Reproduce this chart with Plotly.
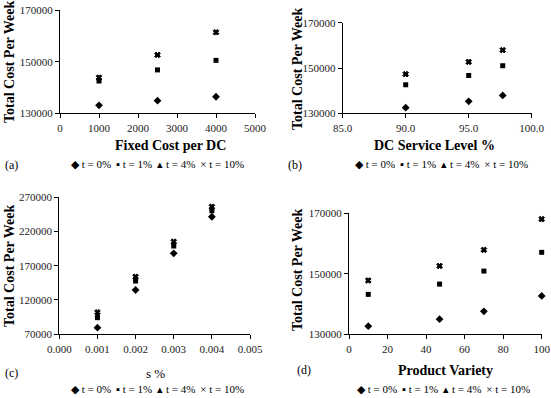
import plotly.graph_objects as go

series_names = ["t = 0%", "t = 1%", "t = 4%", "t = 10%"]
symbols = ["diamond", "square", "triangle-up", "x"]

# (a) Fixed cost per DC
fixed_cost = [1000, 2500, 4000]
a_t0 = [133100, 134900, 136400]
a_t1 = [142500, 146800, 150500]
a_t4 = [143300, 152300, 161000]
a_t10 = [143800, 152600, 161400]

# (b) DC service level
service = [90.0, 95.0, 97.7]
b_t0 = [132500, 135300, 137900]
b_t1 = [142600, 146700, 151000]
b_t4 = [147000, 152400, 157600]
b_t10 = [147300, 152700, 157900]

# (c) s %
s_pct = [0.001, 0.002, 0.003, 0.004]
c_t0 = [79600, 134500, 188000, 241200]
c_t1 = [94200, 147600, 198600, 250000]
c_t4 = [97500, 150500, 201500, 252500]
c_t10 = [102000, 153900, 204900, 255800]

# (d) Product variety
variety = [10, 47, 70, 100]
d_t0 = [132700, 135000, 137600, 142700]
d_t1 = [143200, 146600, 150900, 157100]
d_t4 = [147500, 152300, 157600, 167800]
d_t10 = [147800, 152600, 157900, 168100]

panels = [
    ("x", "y", fixed_cost, [a_t0, a_t1, a_t4, a_t10]),
    ("x2", "y2", service, [b_t0, b_t1, b_t4, b_t10]),
    ("x3", "y3", s_pct, [c_t0, c_t1, c_t4, c_t10]),
    ("x4", "y4", variety, [d_t0, d_t1, d_t4, d_t10]),
]

FONT = "Liberation Serif"
sizes = [6, 5, 5, 5]

fig = go.Figure()
for xa, ya, xs, ys_list in panels:
    for name, sym, sz, ys in zip(series_names, symbols, sizes, ys_list):
        fig.add_trace(go.Scatter(
            x=xs, y=ys, mode="markers", name=name, showlegend=False,
            xaxis=xa, yaxis=ya, cliponaxis=False,
            marker=dict(symbol=sym, size=sz, color="black",
                        line=dict(width=1 if sym == "x" else 0, color="black")),
        ))

W, H = 551, 398

def px_x(v):
    return v / W

def px_y(v):
    return 1 - v / H

axis_common = dict(
    showgrid=False, zeroline=False, showline=True, linecolor="black", linewidth=1,
    ticks="outside", ticklen=4, tickcolor="black", tickwidth=1, automargin=False,
    tickfont=dict(family=FONT, size=11, color="#222"),
)

fig.update_layout(
    width=W, height=H,
    margin=dict(l=0, r=0, t=0, b=0),
    paper_bgcolor="white", plot_bgcolor="white",
    font=dict(family=FONT, color="black"),
    xaxis=dict(domain=[px_x(60), px_x(255)], anchor="y", range=[0, 5000], tick0=0, dtick=1000,
               tickformat="d", **axis_common),
    yaxis=dict(domain=[px_y(113.3), px_y(10)], anchor="x", range=[130000, 170000],
               tick0=130000, dtick=20000, tickformat="d", **axis_common),
    xaxis2=dict(domain=[px_x(342.7), px_x(531.7)], anchor="y2", range=[85, 100], tick0=85, dtick=5,
                tickformat=".1f", **axis_common),
    yaxis2=dict(domain=[px_y(113.3), px_y(22.7)], anchor="x2", range=[130000, 170000],
                tick0=130000, dtick=20000, tickformat="d", **axis_common),
    xaxis3=dict(domain=[px_x(59.3), px_x(250)], anchor="y3", range=[0, 0.005], tick0=0, dtick=0.001,
                tickformat=".3f", **axis_common),
    yaxis3=dict(domain=[px_y(334.3), px_y(197)], anchor="x3", range=[70000, 270000],
                tick0=70000, dtick=50000, tickformat="d", **axis_common),
    xaxis4=dict(domain=[px_x(349), px_x(541.7)], anchor="y4", range=[0, 100], tick0=0, dtick=20,
                tickformat="d", **axis_common),
    yaxis4=dict(domain=[px_y(334.3), px_y(213.3)], anchor="x4", range=[130000, 170000],
                tick0=130000, dtick=20000, tickformat="d", **axis_common),
)

annotations = []

def ann(text, x, y, size, bold=False, angle=0, xanchor="center"):
    t = f"<b>{text}</b>" if bold else text
    annotations.append(dict(text=t, x=px_x(x), y=px_y(y), xref="paper", yref="paper",
                            showarrow=False, textangle=angle, xanchor=xanchor, yanchor="middle",
                            font=dict(family=FONT, size=size, color="black")))

# axis titles
ann("Fixed Cost per DC", 170, 146, 14, bold=True)
ann("DC Service Level %", 434, 146, 14, bold=True)
ann("s %", 155, 373, 13)
ann("Product Variety", 445, 370, 14, bold=True)
ann("Total Cost Per Week", 9, 62, 14, bold=True, angle=-90)
ann("Total Cost Per Week", 297, 69, 14, bold=True, angle=-90)
ann("Total Cost Per Week", 9, 266, 14, bold=True, angle=-90)
ann("Total Cost Per Week", 297, 270, 14, bold=True, angle=-90)

# panel labels
ann("(a)", 3, 165, 12, xanchor="left")
ann("(b)", 286, 165, 12, xanchor="left")
ann("(c)", 3, 373, 12, xanchor="left")
ann("(d)", 295, 370, 12, xanchor="left")

# legends
legend_glyphs = ["\u25c6", "\u25aa", "\u25b4", "\u00d7"]
legend_text = " \u2009".join(f"{g} {n}" for g, n in zip(legend_glyphs, series_names))
ann(legend_text, 157, 164, 11)
ann(legend_text, 441, 164, 11)
ann(legend_text, 157, 389, 11)
ann(legend_text, 443, 389, 11)

fig.update_layout(annotations=annotations)

fig.write_html("out.html", config={"displayModeBar": False},
               post_script="document.body.style.margin='0';document.body.style.overflow='hidden';")
